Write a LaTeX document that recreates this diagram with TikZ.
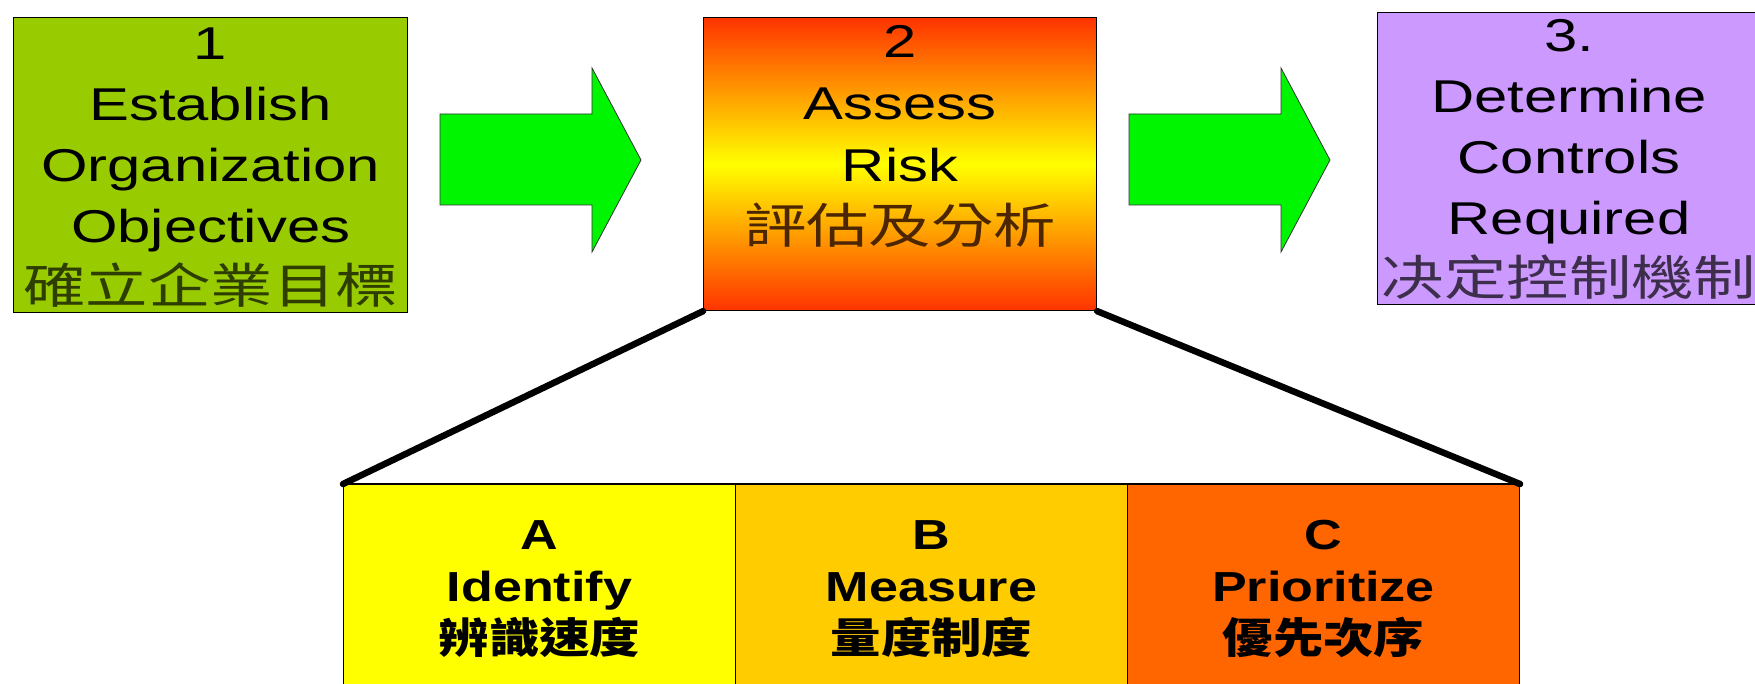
\documentclass[tikz,border=0pt]{standalone}
\usepackage{fontspec}
\setmainfont{Liberation Sans}
\newfontfamily\topfont{Liberation Sans}[FakeStretch=1.3]
\newfontfamily\lowfont{Liberation Sans}[FakeStretch=1.24]
\newfontfamily\cjktop{Noto Sans CJK TC}[FakeStretch=1.3]
\newfontfamily\cjklow{Noto Sans CJK TC}[FakeStretch=1.2]
\usetikzlibrary{positioning}

\definecolor{objgreen}{HTML}{99CC00}
\definecolor{ctrlviolet}{HTML}{CC99FF}
\definecolor{riskred}{HTML}{FF3300}
\definecolor{stepA}{HTML}{FFFF00}
\definecolor{stepB}{HTML}{FFCC00}
\definecolor{stepC}{HTML}{FF6600}
\definecolor{goarrow}{HTML}{00F500}

\tikzset{
  bigbox/.style={draw,line width=1.2pt,anchor=north west,inner sep=0pt},
  toptext/.style={anchor=north,align=center,inner sep=0pt,font=\topfont\fontsize{46}{61}\selectfont},
  stepbox/.style={draw,line width=1pt,anchor=north west,inner sep=0pt,minimum width=392pt,minimum height=220pt},
  steptext/.style={anchor=north,align=center,inner sep=0pt,font=\lowfont\bfseries\fontsize{42}{52}\selectfont},
  arrowfill/.style={fill=goarrow,draw=black!80,line width=0.8pt},
  fatline/.style={line width=6.5pt,line cap=round}
}

\begin{document}
\begin{tikzpicture}[x=1pt,y=-1pt]
\clip (0,0) rectangle (1755,684);
\fill[white] (0,0) rectangle (1755,684);

% top row
\node[bigbox,fill=objgreen,minimum width=394pt,minimum height=295pt] (estab) at (13,17) {};
\node[bigbox,top color=riskred,bottom color=riskred,middle color=yellow,minimum width=393pt,minimum height=293pt] (risk) at (703,17) {};
\node[bigbox,fill=ctrlviolet,minimum width=383pt,minimum height=292pt] (ctrl) at (1377,12) {};

\node[toptext,below=11pt of estab.north] (estabtext) {1\\Establish\\Organization\\Objectives\\{\cjktop\fontsize{48}{61}\selectfont\color{black!70!objgreen}確立企業目標}};
\node[toptext,font=\topfont\fontsize{46}{62}\selectfont,below=8pt of risk.north] (risktext) {2\\Assess\\Risk\\{\cjktop\fontsize{48}{62}\selectfont\color{black!70!orange}評估及分析}};
\node[toptext,below=7pt of ctrl.north] (ctrltext) {3.\\Determine\\Controls\\Required\\{\cjktop\fontsize{48}{61}\selectfont\color{black!70!ctrlviolet}决定控制機制}};

% block arrows
\foreach \ax in {440,1129}
  \draw[arrowfill] (\ax,114) -- ++(152,0) -- ++(0,-46) -- ++(49,92) -- ++(-49,92) -- ++(0,-47) -- ++(-152,0) -- cycle;

% A B C strip
\node[stepbox,fill=stepA] (ident) at (343,484) {};
\node[stepbox,fill=stepB] (meas) at (735,484) {};
\node[stepbox,fill=stepC] (prio) at (1127,484) {};

\node[steptext,below=36pt of ident.north] (identtext) {A\\Identify\\{\cjklow\bfseries 辨識速度}};
\node[steptext,below=36pt of meas.north] (meastext) {B\\Measure\\{\cjklow\bfseries 量度制度}};
\node[steptext,below=36pt of prio.north] (priotext) {C\\Prioritize\\{\cjklow\bfseries 優先次序}};

\draw[line width=1.8pt] (ident.north west) -- (prio.north east);
\draw[fatline] (risk.south west) -- (ident.north west);
\draw[fatline] (risk.south east) -- (prio.north east);
\end{tikzpicture}
\end{document}
